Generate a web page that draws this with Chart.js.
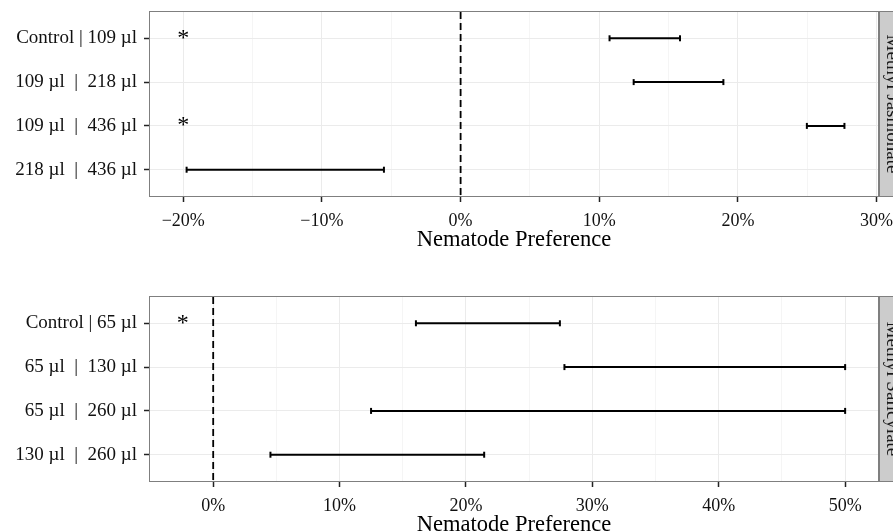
<!DOCTYPE html>
<html><head><meta charset="utf-8">
<script src="https://cdn.jsdelivr.net/npm/chart.js@4"></script>
<style>
html,body{margin:0;padding:0;background:#fff;overflow:hidden;width:893px;height:532px;}
.wrap{position:absolute;left:0;width:893px;height:266px;}
canvas{display:block;}
</style></head><body>
<div class="wrap" style="top:0"><canvas id="c1" width="893" height="266"></canvas></div>
<div class="wrap" style="top:285px"><canvas id="c2" width="893" height="266"></canvas></div>
<script>
// ---------- Data: Methyl Jasmonate ----------
const mjCategories = ['Control | 109 µl', '109 µl  |  218 µl', '109 µl  |  436 µl', '218 µl  |  436 µl'];
const mjLower = [0.1074, 0.1248, 0.2497, -0.1976];
const mjUpper = [0.1582, 0.1895, 0.2768, -0.0553];
const mjStarRows = [1, 3];
const mjStarX = -0.20;
const mjMajorTicks = [-0.2, -0.1, 0, 0.1, 0.2, 0.3];
const mjMinorTicks = [-0.15, -0.05, 0.05, 0.15, 0.25];
const mjRange = [-0.224, 0.301];
const mjStrip = 'Methyl Jasmonate';

// ---------- Data: Methyl Salicylate ----------
const msCategories = ['Control | 65 µl', '65 µl  |  130 µl', '65 µl  |  260 µl', '130 µl  |  260 µl'];
const msLower = [0.1604, 0.2779, 0.1249, 0.0453];
const msUpper = [0.2743, 0.5000, 0.5000, 0.2144];
const msStarRows = [1];
const msStarX = -0.024;
const msMajorTicks = [0, 0.1, 0.2, 0.3, 0.4, 0.5];
const msMinorTicks = [0.05, 0.15, 0.25, 0.35, 0.45];
const msRange = [-0.050, 0.526];
const msStrip = 'Methyl Salicylate';

const axisTitle = 'Nematode Preference';
const FONT = '"Liberation Serif", "Times New Roman", serif';

function fmtPct(v) {
  const p = Math.round(v * 100);
  return (p < 0 ? '\u2212' + Math.abs(p) : p) + '%';
}
function isMajor(v) { return Math.round(v * 100) % 10 === 0; }

const panelPlugin = {
  id: 'panelDecor',
  afterDatasetsDraw(chart, args, opts) {
    const ctx = chart.ctx;
    chart.data.datasets.forEach((ds, i) => {
      if (!ds.isStar) return;
      const meta = chart.getDatasetMeta(i);
      ctx.save();
      ctx.fillStyle = '#000';
      ctx.font = '24px ' + FONT;
      ctx.textAlign = 'center';
      ctx.textBaseline = 'middle';
      meta.data.forEach(el => ctx.fillText('*', el.x, el.y));
      ctx.restore();
    });
  },
  afterDraw(chart, args, opts) {
    const ctx = chart.ctx;
    const a = chart.chartArea;
    ctx.save();
    ctx.strokeStyle = '#7F7F7F';
    ctx.lineWidth = 1;
    ctx.strokeRect(a.left - 0.5, a.top - 0.5, a.right - a.left + 1, a.bottom - a.top + 1);
    const sx = a.right + 1;
    ctx.fillStyle = '#CCCCCC';
    ctx.fillRect(sx, a.top - 0.5, 30, a.bottom - a.top + 1);
    ctx.strokeRect(sx + 0.5, a.top - 0.5, 30, a.bottom - a.top + 1);
    ctx.translate(sx + 13, (a.top + a.bottom) / 2);
    ctx.rotate(Math.PI / 2);
    ctx.fillStyle = '#1A1A1A';
    ctx.font = '19px ' + FONT;
    ctx.textAlign = 'center';
    ctx.textBaseline = 'middle';
    ctx.fillText(opts.strip, 0, 0);
    ctx.restore();
  }
};

function makeChart(id, cats, lower, upper, starRows, starX, major, minor, range, strip) {
  const datasets = [];
  datasets.push({
    data: [{x: 0, y: 0.4}, {x: 0, y: cats.length + 0.6}],
    showLine: true, borderColor: '#000', borderWidth: 1.8, borderDash: [7, 4],
    pointRadius: 0, pointHoverRadius: 0
  });
  cats.forEach((c, i) => {
    datasets.push({
      data: [{x: lower[i], y: i + 1}, {x: upper[i], y: i + 1}],
      showLine: true, borderColor: '#000', borderWidth: 2,
      pointStyle: 'line', rotation: 90, pointRadius: 3,
      pointBorderColor: '#000', pointBorderWidth: 2, pointBackgroundColor: '#000',
      pointHoverRadius: 3
    });
  });
  datasets.push({
    isStar: true,
    data: starRows.map(r => ({x: starX, y: r})),
    pointRadius: 0, pointHoverRadius: 0
  });

  return new Chart(document.getElementById(id), {
    type: 'scatter',
    data: {datasets},
    plugins: [panelPlugin],
    options: {
      responsive: false,
      animation: false,
      events: [],
      layout: {padding: {top: 12, right: 15, left: 0, bottom: 0}},
      plugins: {legend: {display: false}, tooltip: {enabled: false}, panelDecor: {strip}},
      scales: {
        x: {
          type: 'linear', min: range[0], max: range[1],
          afterBuildTicks: s => { s.ticks = major.concat(minor).sort((p, q) => p - q).map(v => ({value: v})); },
          afterFit: s => { s.height = 70; s.paddingLeft = 0; s.paddingRight = 0; s.paddingTop = 0; s.paddingBottom = 0; },
          border: {display: false},
          grid: {
            color: c => (c.tick && isMajor(c.tick.value)) ? '#EBEBEB' : '#F5F5F5',
            tickColor: c => (c.tick && isMajor(c.tick.value)) ? '#222222' : 'rgba(0,0,0,0)',
            tickLength: 6, lineWidth: 1, tickWidth: 1.5
          },
          ticks: {
            autoSkip: false, maxRotation: 0, padding: 8,
            color: '#111', font: {family: FONT, size: 18},
            callback: v => isMajor(v) ? fmtPct(v) : ''
          },
          title: {display: true, text: axisTitle, color: '#000',
                  font: {family: FONT, size: 22.5}, padding: {top: 0, bottom: 12}}
        },
        y: {
          type: 'linear', min: 0.4, max: cats.length + 0.6, reverse: true,
          afterBuildTicks: s => { s.ticks = cats.map((c, i) => ({value: i + 1})); },
          afterFit: s => { s.width = 150; s.paddingLeft = 0; s.paddingRight = 0; s.paddingTop = 0; s.paddingBottom = 0; },
          border: {display: false},
          grid: {color: '#EBEBEB', tickColor: '#222222', tickLength: 6, lineWidth: 1, tickWidth: 1.5},
          ticks: {
            autoSkip: false, padding: 7,
            color: '#111', font: {family: FONT, size: 19},
            callback: v => cats[Math.round(v) - 1] || ''
          }
        }
      }
    }
  });
}

makeChart('c1', mjCategories, mjLower, mjUpper, mjStarRows, mjStarX, mjMajorTicks, mjMinorTicks, mjRange, mjStrip);
makeChart('c2', msCategories, msLower, msUpper, msStarRows, msStarX, msMajorTicks, msMinorTicks, msRange, msStrip);
</script>
</body></html>
